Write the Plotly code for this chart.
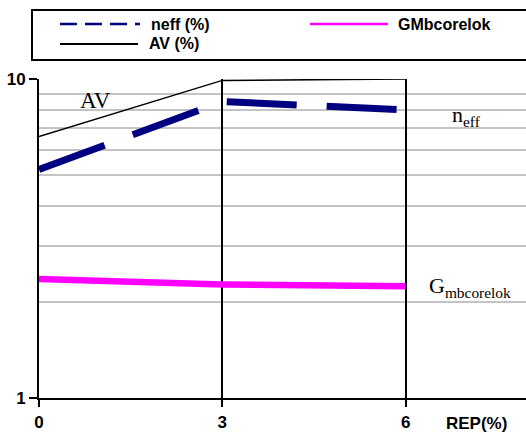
import plotly.graph_objects as go

# REP (%) levels and the three measured series
rep = [0, 3, 6]
neff = [5.2, 8.5, 8.0]
av = [6.6, 9.9, 10.0]
gmbcorelok = [2.36, 2.27, 2.24]

x_ticks = [0, 3, 6]
y_ticks = [1, 10]
y_minor = [2, 3, 4, 5, 6, 7, 8, 9]

W, H = 526, 432
L, R, T, B = 39, 0, 79, 34
PW, PH = W - L - R, H - T - B


def px(x):
    return (x - L) / PW


def py(y):
    return (H - B - y) / PH


fig = go.Figure()

fig.add_trace(go.Scatter(
    x=rep, y=gmbcorelok, mode="lines", showlegend=False,
    line=dict(color="#ff00ff", width=6.5)))
fig.add_trace(go.Scatter(
    x=rep, y=av, mode="lines", showlegend=False,
    line=dict(color="#000000", width=1.5)))
fig.add_trace(go.Scatter(
    x=rep, y=neff, mode="lines", showlegend=False,
    line=dict(color="#000080", width=7, dash="70px,30px")))

bold = dict(family="Liberation Sans, Arial", size=17, color="black")
serif = dict(family="Liberation Serif, Times New Roman", size=22, color="black")

fig.update_xaxes(
    range=[0, 7.97], tickvals=x_ticks, ticktext=[f"<b>{v}</b>" for v in x_ticks],
    showline=True, linecolor="black", linewidth=2,
    ticks="outside", ticklen=7, tickwidth=1.5, tickcolor="black",
    ticklabelstandoff=1, automargin=False,
    showgrid=True, gridcolor="black", gridwidth=1.5,
    zeroline=False, tickfont=bold, fixedrange=True)
fig.update_yaxes(
    type="log", range=[0, 1], tickvals=y_ticks, ticktext=[f"<b>{v}</b>" for v in y_ticks],
    showline=True, linecolor="black", linewidth=2,
    ticks="outside", ticklen=8, tickwidth=1.5, tickcolor="black",
    automargin=False,
    showgrid=True, gridcolor="#9a9a9a", gridwidth=2,
    minor=dict(tickvals=y_minor, showgrid=True, gridcolor="#c4c4c4",
               gridwidth=2, ticks=""),
    zeroline=False, tickfont=bold, fixedrange=True)

legend_font = dict(bold, size=16)
annotations = [
    dict(x=0.93, y=0.934, xref="x", yref="y", text="AV", showarrow=False,
         font=dict(serif, size=23), xanchor="center", yanchor="middle"),
    dict(x=7.0, y=0.884, xref="x", yref="y", text="n<sub>eff</sub>",
         showarrow=False, font=serif, xanchor="center", yanchor="middle"),
    dict(x=7.05, y=0.349, xref="x", yref="y", text="G<sub>mbcorelok</sub>",
         showarrow=False, font=serif, xanchor="center", yanchor="middle"),
    dict(x=px(476), y=py(423), xref="paper", yref="paper", text="<b>REP(%)</b>",
         showarrow=False, font=bold, xanchor="center", yanchor="middle"),
    # legend labels
    dict(x=px(149), y=py(24), xref="paper", yref="paper", text="<b>neff (%)</b>",
         showarrow=False, font=legend_font, xanchor="left", yanchor="middle"),
    dict(x=px(396), y=py(24), xref="paper", yref="paper", text="<b>GMbcorelok</b>",
         showarrow=False, font=legend_font, xanchor="left", yanchor="middle"),
    dict(x=px(147), y=py(44), xref="paper", yref="paper", text="<b>AV (%)</b>",
         showarrow=False, font=legend_font, xanchor="left", yanchor="middle"),
]

shapes = [
    # legend frame
    dict(type="rect", xref="paper", yref="paper",
         x0=px(32), x1=px(W + 5), y0=py(60), y1=py(10),
         line=dict(color="black", width=2), fillcolor="white", layer="above"),
    # legend samples
    dict(type="line", xref="paper", yref="paper",
         x0=px(60), x1=px(140), y0=py(24), y1=py(24),
         line=dict(color="#000080", width=2.5, dash="17px,8px")),
    dict(type="line", xref="paper", yref="paper",
         x0=px(310), x1=px(388), y0=py(24), y1=py(24),
         line=dict(color="#ff00ff", width=2.5)),
    dict(type="line", xref="paper", yref="paper",
         x0=px(60), x1=px(138), y0=py(44), y1=py(44),
         line=dict(color="black", width=2)),
]

fig.update_layout(
    width=W, height=H,
    margin=dict(l=L, r=R, t=T, b=B, pad=0),
    paper_bgcolor="white", plot_bgcolor="white",
    showlegend=False,
    annotations=annotations, shapes=shapes)

fig.write_html("out.html", config=dict(displayModeBar=False))
